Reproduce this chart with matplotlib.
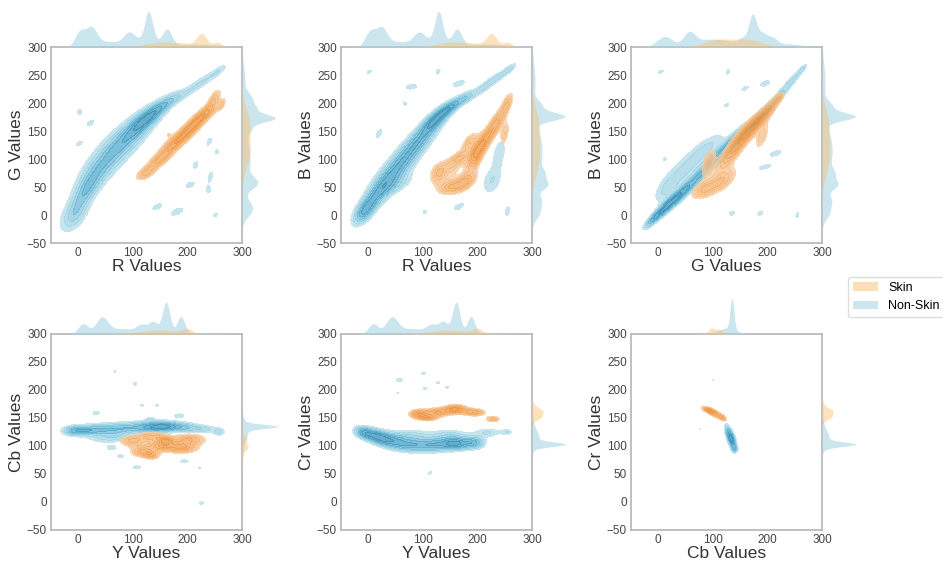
import numpy as np
import matplotlib.pyplot as plt
from matplotlib.colors import LinearSegmentedColormap
from matplotlib.patches import Patch

plt.rcParams['font.family'] = ['Liberation Sans', 'DejaVu Sans']

# 2-D density blobs: (x, y, sx, sy, rho, peak)
rg_non = [(-8, -2, 16, 18, 0.5, 3.0), (12, 40, 18, 24, 0.7, 4.0), (35, 78, 24, 26, 0.65, 3.0),
          (62, 110, 26, 26, 0.65, 2.6), (88, 135, 26, 24, 0.65, 3.0), (112, 160, 22, 20, 0.7, 3.5),
          (133, 178, 20, 16, 0.75, 4.5), (158, 198, 16, 12, 0.75, 3.0), (180, 210, 12, 8, 0.6, 1.6),
          (205, 223, 18, 12, 0.85, 1.6), (235, 243, 18, 12, 0.85, 1.6), (258, 258, 10, 8, 0.8, 1.4),
          (2, 184, 5, 5, 0, 1.4), (22, 164, 7, 6, 0.6, 1.4), (2, 128, 6, 5, 0.5, 1.4),
          (240, 131, 5, 8, 0.5, 1.4), (254, 113, 4, 5, 0, 1.3), (215, 89, 5, 7, 0.3, 1.4),
          (242, 68, 5, 10, 0.5, 1.4), (205, 54, 9, 6, 0.5, 1.4), (239, 45, 5, 6, 0, 1.3),
          (145, 15, 10, 6, 0.6, 1.4), (181, 6, 12, 7, 0.6, 1.5), (251, 0, 5, 5, 0.5, 1.3)]
rg_skin = [(122, 73, 12, 8, 0.5, 2.2), (145, 95, 16, 12, 0.7, 2.5), (168, 120, 16, 14, 0.7, 2.5),
           (192, 142, 16, 14, 0.7, 2.8), (215, 165, 14, 14, 0.7, 3.0), (238, 185, 13, 13, 0.7, 2.6),
           (250, 210, 8, 11, 0.6, 2.0), (262, 197, 6, 8, 0.6, 1.8), (166, 143, 3, 3, 0, 1.2)]

rb_non = [(-8, 5, 14, 16, 0.6, 3.5), (15, 35, 20, 22, 0.7, 3.0), (40, 70, 24, 24, 0.7, 2.6),
          (68, 100, 24, 24, 0.7, 2.5), (95, 135, 24, 22, 0.75, 3.0), (125, 172, 20, 18, 0.8, 4.5),
          (155, 195, 16, 12, 0.8, 3.0), (180, 210, 10, 8, 0.5, 1.5), (205, 223, 18, 12, 0.85, 1.6),
          (235, 245, 18, 12, 0.85, 1.6), (260, 262, 10, 8, 0.8, 1.4), (55, 55, 22, 14, 0.6, 1.4),
          (226, 60, 14, 18, 0.3, 1.6), (240, 110, 10, 22, 0.4, 1.5),
          (2, 256, 5, 4, 0.5, 1.3), (79, 229, 12, 5, 0.3, 1.4), (128, 256, 5, 6, 0.5, 1.3),
          (166, 235, 12, 6, 0.5, 1.4), (67, 199, 4, 4, 0, 1.3), (20, 146, 6, 9, 0.6, 1.4),
          (104, 6, 5, 4, 0.3, 1.3), (166, 15, 10, 7, 0.6, 1.4), (255, 7, 5, 9, 0.4, 1.4)]
rb_skin = [(130, 75, 12, 14, 0.3, 2.4), (150, 50, 16, 10, 0.3, 2.5), (180, 60, 14, 12, 0.5, 2.3),
           (165, 100, 14, 10, 0.5, 2.3), (195, 100, 12, 18, 0.6, 2.5), (210, 130, 14, 18, 0.7, 2.8),
           (185, 130, 10, 12, 0.6, 2.0), (235, 165, 12, 18, 0.7, 2.5), (255, 200, 8, 14, 0.6, 2.0),
           (250, 145, 6, 15, 0.5, 1.8), (156, 80, 10, 9, 0, 0.85)]

gb_non = [(-10, -8, 12, 12, 0.85, 3.0), (15, 15, 16, 16, 0.88, 4.0), (45, 40, 18, 18, 0.88, 3.5),
          (80, 75, 20, 20, 0.88, 2.5), (115, 110, 20, 20, 0.88, 2.8), (150, 145, 18, 18, 0.9, 3.2),
          (185, 175, 14, 14, 0.92, 4.5), (215, 205, 16, 16, 0.92, 2.5), (245, 240, 16, 16, 0.92, 1.8),
          (265, 262, 6, 6, 0.8, 1.3), (15, 45, 18, 20, 0.6, 1.6), (50, 82, 26, 22, 0.7, 1.6),
          (90, 122, 26, 20, 0.75, 1.6),
          (5, 256, 7, 4, 0.6, 1.3), (128, 256, 4, 6, 0.5, 1.3), (159, 226, 8, 5, 0.6, 1.3),
          (196, 235, 10, 6, 0.5, 1.4), (125, 196, 6, 4, 0.5, 1.3), (215, 110, 12, 6, 0.6, 1.4),
          (196, 86, 12, 5, 0.6, 1.4), (135, 3, 6, 5, 0.3, 1.3), (187, 3, 6, 5, 0.3, 1.3),
          (255, 0, 4, 6, 0.5, 1.3), (12, 100, 4, 4, 0, 1.2)]
gb_skin = [(82, 45, 16, 12, 0.5, 2.3), (118, 62, 18, 16, 0.6, 2.3), (92, 95, 10, 18, 0.6, 2.0),
           (130, 105, 18, 20, 0.8, 2.5), (155, 140, 18, 20, 0.8, 2.8), (180, 165, 16, 18, 0.8, 2.6),
           (205, 190, 13, 15, 0.8, 2.3), (222, 210, 7, 7, 0.6, 1.6), (190, 140, 9, 16, 0.6, 1.8)]

ycb_non = [(-10, 127, 14, 6, 0, 3.0), (15, 128, 18, 6, 0, 3.5), (50, 130, 22, 7, 0, 3.0),
           (90, 132, 22, 7, 0, 3.0), (130, 134, 20, 7, 0, 3.8), (160, 135, 18, 6, 0, 4.5),
           (195, 133, 18, 6, 0, 3.0), (230, 130, 16, 5, 0, 2.0), (258, 125, 8, 5, 0, 1.8),
           (45, 114, 22, 7, 0, 1.5), (70, 117, 15, 6, 0, 1.4),
           (67, 233, 3, 2, 0, 1.2), (104, 211, 5, 3, 0, 1.3), (117, 173, 4, 3, 0, 1.2),
           (144, 173, 4, 3, 0, 1.2), (33, 159, 7, 4, 0, 1.4), (132, 148, 6, 3, 0, 1.3),
           (185, 154, 10, 4, 0, 1.4), (61, 97, 9, 4, 0, 1.4), (77, 82, 8, 3, 0, 1.3),
           (107, 62, 8, 3, 0, 1.4), (194, 73, 10, 3, 0, 1.3), (222, 61, 3, 3, 0, 1.2),
           (226, -2, 5, 3, 0, 1.3)]
ycb_skin = [(98, 109, 16, 7, 0, 2.3), (135, 117, 18, 6, 0, 2.3), (203, 112, 22, 7, 0, 2.5),
            (117, 90, 15, 7, 0, 2.5), (191, 97, 20, 7, 0, 2.8), (150, 100, 18, 7, 0, 2.5),
            (135, 83, 10, 5, 0, 2.0), (160, 110, 10, 5, 0, 2.0)]

ycr_non = [(-10, 124, 12, 8, -0.3, 3.0), (15, 117, 16, 10, -0.4, 3.8), (45, 108, 18, 10, -0.3, 3.0),
           (80, 102, 20, 9, -0.1, 3.0), (120, 102, 20, 9, 0, 3.2), (160, 104, 18, 8, 0, 4.2),
           (195, 106, 14, 8, 0, 3.0), (75, 120, 30, 8, 0, 1.6), (150, 120, 24, 8, 0, 1.5),
           (220, 124, 18, 6, 0, 1.6), (255, 125, 8, 4, 0, 1.4),
           (57, 218, 6, 4, 0, 1.4), (101, 230, 5, 3, 0, 1.3), (104, 203, 5, 3, 0, 1.3),
           (128, 213, 4, 3, 0, 1.2), (144, 205, 4, 3, 0, 1.2), (54, 195, 3, 2, 0, 1.2),
           (113, 52, 5, 3, 0.5, 1.3)]
ycr_skin = [(90, 157, 12, 6, 0, 2.4), (125, 160, 18, 6, 0, 2.4), (160, 166, 15, 6, 0, 2.8),
            (195, 160, 15, 5, 0, 2.4), (228, 148, 10, 4, 0, 2.0), (110, 150, 12, 4, 0, 2.0)]

cbcr_non = [(128, 125, 5, 10, -0.5, 3.0), (135, 110, 5, 10, -0.4, 4.5), (140, 95, 4, 5, 0, 2.5),
            (101, 218, 1.5, 2, 0, 1.2), (77, 131, 1.5, 1.5, 0, 1.2), (121, 155, 2, 2, 0, 1.2)]
cbcr_skin = [(90, 165, 8, 4, -0.6, 2.5), (103, 158, 10, 6, -0.7, 3.0), (118, 150, 5, 4, -0.5, 2.0)]

# marginal bumps per channel: (centre, width, height as share of the strip)
marg_non = {
    'R': [(3, 9, 0.4), (24, 10, 0.48), (55, 25, 0.15), (93, 10, 0.28), (129, 7, 0.78), (125, 25, 0.2),
          (163, 8, 0.4), (215, 45, 0.08)],
    'G': [(0, 10, 0.1), (15, 11, 0.22), (57, 10, 0.3), (100, 45, 0.22), (155, 8, 0.15), (173, 7, 0.82),
          (190, 8, 0.3), (208, 10, 0.22), (240, 25, 0.08)],
    'B': [(5, 12, 0.2), (27, 10, 0.2), (54, 9, 0.33), (74, 9, 0.18), (115, 40, 0.28), (176, 7, 0.8),
          (195, 9, 0.22), (240, 30, 0.08)],
    'Y': [(9, 9, 0.28), (43, 11, 0.43), (80, 25, 0.15), (117, 10, 0.22), (138, 8, 0.32), (161, 7, 0.88),
          (188, 7, 0.48), (230, 25, 0.03)],
    'Cb': [(135, 3.5, 0.85), (128, 15, 0.15), (105, 20, 0.03)],
    'Cr': [(103, 4, 0.8), (115, 14, 0.18), (150, 30, 0.02)],
}
marg_skin = {
    'R': [(140, 20, 0.06), (180, 35, 0.12), (226, 9, 0.33), (255, 8, 0.12)],
    'G': [(110, 25, 0.2), (165, 25, 0.2)],
    'B': [(100, 28, 0.18), (160, 28, 0.18)],
    'Y': [(150, 35, 0.11), (200, 9, 0.12)],
    'Cb': [(98, 5, 0.13), (112, 5, 0.1), (100, 20, 0.04)],
    'Cr': [(152, 4, 0.1), (163, 4, 0.1), (159, 10, 0.22)],
}

panels = [('R', 'G', rg_non, rg_skin), ('R', 'B', rb_non, rb_skin), ('G', 'B', gb_non, gb_skin),
          ('Y', 'Cb', ycb_non, ycb_skin), ('Y', 'Cr', ycr_non, ycr_skin), ('Cb', 'Cr', cbcr_non, cbcr_skin)]

grid = np.linspace(-50, 300, 351)
X, Y = np.meshgrid(grid, grid)


def density(blobs):
    Z = np.zeros_like(X)
    for cx, cy, sx, sy, r, h in blobs:
        dx = (X - cx) / sx
        dy = (Y - cy) / sy
        q = (dx**2 - 2 * r * dx * dy + dy**2) / (1 - r**2)
        Z += h * np.exp(-0.5 * q)
    return Z


def curve(bumps):
    return sum(h * np.exp(-0.5 * ((grid - c) / s) ** 2) for c, s, h in bumps)


blue_cmap = LinearSegmentedColormap.from_list('nb', ['#bfe0ec', '#8ccbe0', '#4ea8cc', '#3088ad'])
orange_cmap = LinearSegmentedColormap.from_list('sk', ['#f8cfa6', '#f4ac66', '#eb8c33'])
non_col, skin_col = '#a9d6e5', '#fdbf6f'

fig = plt.figure(figsize=(9.43, 5.61), dpi=100)
W, H = 943, 561
lefts = [51, 341, 631]
tops = [47, 334]
aw, ah = 191, 196

for i, (xv, yv, non, skin) in enumerate(panels):
    row, col = divmod(i, 3)
    l, t = lefts[col], tops[row]
    ax = fig.add_axes([l / W, 1 - (t + ah) / H, aw / W, ah / H])
    axt = fig.add_axes([l / W, 1 - t / H, aw / W, 36 / H])
    axr = fig.add_axes([(l + aw) / W, 1 - (t + ah) / H, 36 / W, ah / H])

    for blobs, cmap in [(non, blue_cmap), (skin, orange_cmap)]:
        Z = density(blobs)
        levels = np.linspace(1.0, Z.max() + 0.01, 8)
        ax.contourf(X, Y, Z, levels=levels, cmap=cmap, alpha=0.75)

    axt.fill_between(grid, 0, curve(marg_non[xv]), color=non_col, alpha=0.6, lw=0)
    axt.fill_between(grid, 0, curve(marg_skin[xv]), color=skin_col, alpha=0.45, lw=0)
    axr.fill_betweenx(grid, 0, curve(marg_non[yv]), color=non_col, alpha=0.6, lw=0)
    axr.fill_betweenx(grid, 0, curve(marg_skin[yv]), color=skin_col, alpha=0.45, lw=0)
    axt.set_xlim(-50, 300)
    axt.set_ylim(0, 1.0)
    axr.set_ylim(-50, 300)
    axr.set_xlim(0, 1.0)
    for a in (axt, axr):
        a.axis('off')

    ax.set_xlim(-50, 300)
    ax.set_ylim(-50, 300)
    ax.set_xticks([0, 100, 200, 300])
    ax.set_yticks(range(-50, 301, 50))
    ax.tick_params(length=0, labelsize=8.5, colors='#444444', pad=3)
    ax.set_xlabel(xv + ' Values', fontsize=12.5, color='#333333', labelpad=0)
    ax.set_ylabel(yv + ' Values', fontsize=12.5, color='#333333', labelpad=2)
    for s in ax.spines.values():
        s.set_color('#b5b5b5')
        s.set_linewidth(1.2)

handles = [Patch(facecolor=skin_col, alpha=0.5, lw=0), Patch(facecolor=non_col, alpha=0.6, lw=0)]
fig.legend(handles, ['Skin', 'Non-Skin'], loc='upper left', bbox_to_anchor=(848 / W, 1 - 277 / H),
           borderaxespad=0, fontsize=9, frameon=True, edgecolor='#d5d5d5')

fig.savefig('out.png', dpi=100)
